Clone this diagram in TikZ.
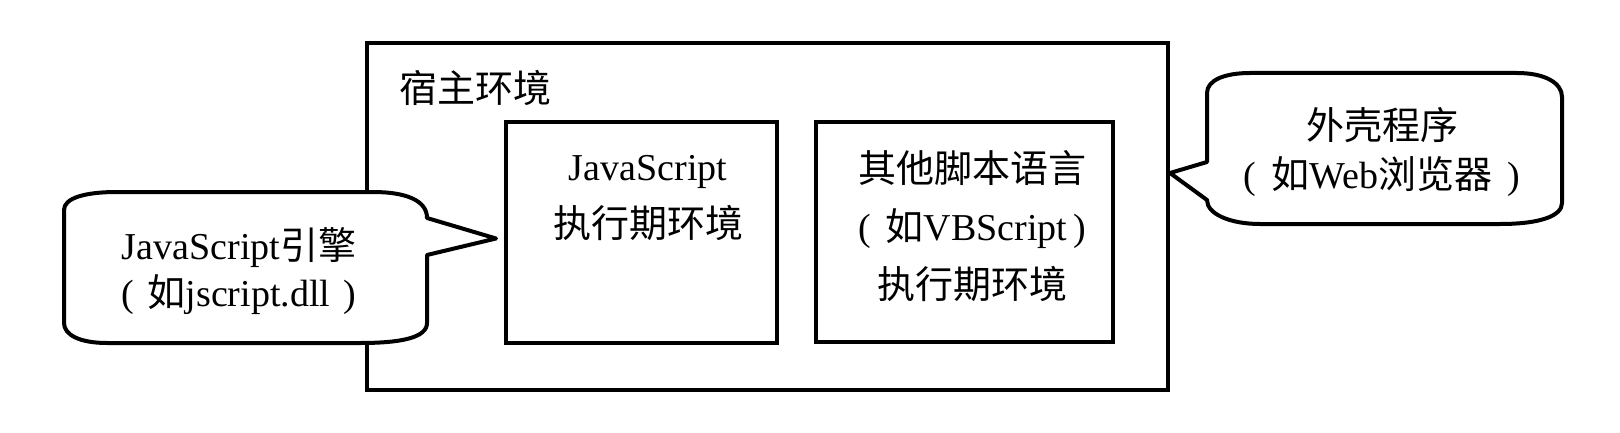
\documentclass[tikz,border=0pt]{standalone}
\usepackage{fontspec}
\setmainfont{Liberation Serif}
\newfontfamily\cjk{Noto Sans CJK SC}
\usetikzlibrary{positioning}
\begin{document}
\begin{tikzpicture}[x=0.5pt,y=-0.5pt]
            \tikzset{
            env box/.style={draw,line width=2pt,inner sep=0},
            env text/.style={align=center,inner sep=0,font=\fontsize{19}{#1}\selectfont},
            env text/.default=28.5pt,
            bubble/.style={draw,line width=2pt,fill=white,line join=round}
            }
            \useasboundingbox (0,0) rectangle (1620,433);
            \node[env box,minimum width=400.5pt,minimum height=173.5pt] (host) at (767.5,216.5) {};
            \node[env box,minimum width=135.5pt,minimum height=110.5pt] (jsrt) at (641.5,232.5) {};
            \node[env box,minimum width=148.5pt,minimum height=110pt] (otherrt) at (964.5,232) {};
            \node[env text,anchor=west] (hostlabel) at (399,88) {\cjk 宿主环境};
            \node[env text] (jsrtlabel) at (648,198) {JavaScript\\{\cjk 执行期环境}};
            \node[env text=29pt] (otherlabel) at (972,226)
            {{\cjk 其他脚本语言}\\(\hspace{0.4em}{\cjk 如}VBScript\hspace{0.15em})\\{\cjk 执行期环境}};

            % engine callout, pointing at the JavaScript box
            \draw[bubble] (117,192) -- (373,192)
            .. controls (405,192) and (427,200) .. (427,218)
            -- ([xshift=-4pt,yshift=-3pt]jsrt.west) -- (427,255) -- (427,323)
            .. controls (427,338) and (400,343) .. (360,343) -- (107,343)
            .. controls (80,343) and (64,335) .. (64,323) -- (64,210)
            .. controls (64,198) and (85,192) .. (117,192) -- cycle;
            \node[env text=23.5pt] (engine) at (239,271)
            {JavaScript{\cjk 引擎}\\(\hspace{0.35em}{\cjk 如}jscript.dll\hspace{0.35em})};

            % shell callout, pointing at the host box
            \draw[bubble] (1250,73) -- (1517,73)
            .. controls (1545,73) and (1562,83) .. (1562,97) -- (1562,203)
            .. controls (1562,216) and (1540,224) .. (1500,224) -- (1260,224)
            .. controls (1230,224) and (1207,214) .. (1207,200)
            -- ([yshift=21.75pt]host.east) -- (1207,162) -- (1207,93)
            .. controls (1207,80) and (1225,73) .. (1250,73) -- cycle;
            \node[env text=24.5pt] (shell) at (1382,152)
            {{\cjk 外壳程序}\\(\hspace{0.4em}{\cjk 如}Web{\cjk 浏览器}\hspace{0.4em})};
        \end{tikzpicture}
\end{document}
